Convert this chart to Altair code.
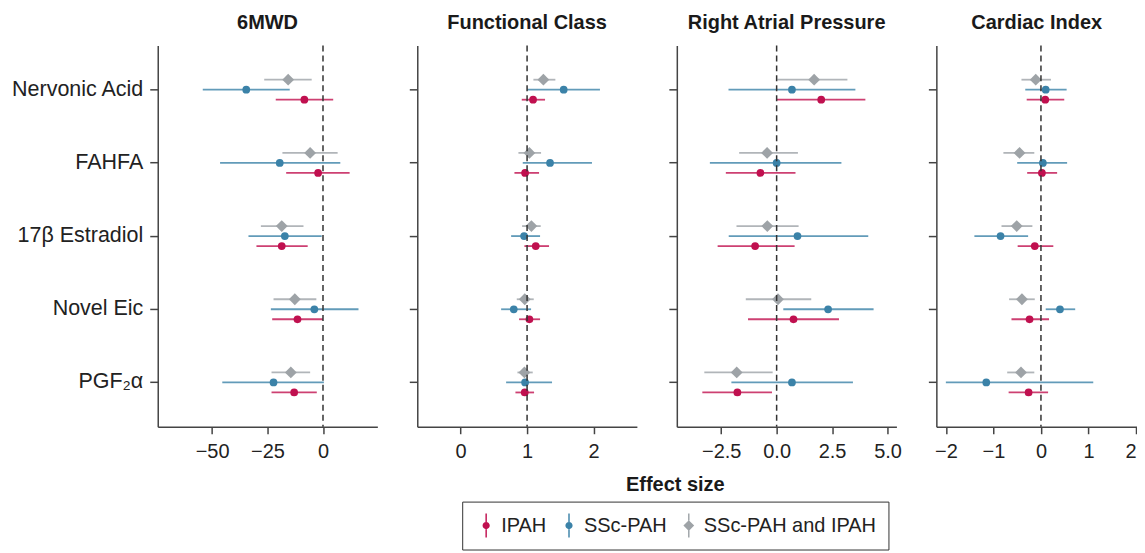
import altair as alt
import pandas as pd

metabolites = ["Nervonic Acid", "FAHFA", "17β Estradiol", "Novel Eic", "PGF₂α"]
groups = ["IPAH", "SSc-PAH", "SSc-PAH and IPAH"]
offset_order = ["SSc-PAH and IPAH", "SSc-PAH", "IPAH"]
colors = ["#C0104F", "#3B82A8", "#9EA3A7"]

# 6MWD
mwd_est = {"SSc-PAH and IPAH": [-15.7, -5.8, -18.6, -12.7, -14.5],
           "SSc-PAH": [-34.6, -19.5, -17.2, -3.9, -22.3],
           "IPAH": [-8.4, -2.2, -18.6, -11.5, -13.0]}
mwd_lo = {"SSc-PAH and IPAH": [-26.5, -18.3, -28.0, -22.3, -23.2],
          "SSc-PAH": [-54.2, -46.4, -33.6, -23.5, -45.4],
          "IPAH": [-21.3, -16.6, -30.0, -22.9, -23.2]}
mwd_hi = {"SSc-PAH and IPAH": [-5.1, 6.6, -8.8, -3.0, -5.8],
          "SSc-PAH": [-15.0, 7.8, -0.6, 16.0, 0.4],
          "IPAH": [4.6, 12.0, -6.9, 0.0, -2.8]}

# Functional Class
fc_est = {"SSc-PAH and IPAH": [1.245, 1.035, 1.065, 0.965, 0.96],
          "SSc-PAH": [1.55, 1.345, 0.955, 0.80, 0.97],
          "IPAH": [1.09, 0.97, 1.13, 1.035, 0.965]}
fc_lo = {"SSc-PAH and IPAH": [1.095, 0.87, 0.925, 0.845, 0.855],
         "SSc-PAH": [1.0, 0.935, 0.76, 0.61, 0.685],
         "IPAH": [0.92, 0.81, 0.96, 0.88, 0.825]}
fc_hi = {"SSc-PAH and IPAH": [1.425, 1.21, 1.205, 1.10, 1.085],
         "SSc-PAH": [2.095, 1.975, 1.195, 1.06, 1.375],
         "IPAH": [1.27, 1.18, 1.33, 1.195, 1.105]}

# Right Atrial Pressure
rap_est = {"SSc-PAH and IPAH": [1.69, -0.43, -0.42, 0.06, -1.80],
           "SSc-PAH": [0.69, 0.0, 0.94, 2.32, 0.69],
           "IPAH": [2.01, -0.73, -0.97, 0.76, -1.77]}
rap_lo = {"SSc-PAH and IPAH": [0.03, -1.69, -1.81, -1.39, -3.26],
          "SSc-PAH": [-2.17, -3.01, -2.16, 0.30, -2.04],
          "IPAH": [0.0, -2.29, -2.66, -1.29, -3.35]}
rap_hi = {"SSc-PAH and IPAH": [3.19, 0.96, 0.99, 1.56, -0.18],
          "SSc-PAH": [3.55, 2.92, 4.13, 4.37, 3.44],
          "IPAH": [4.0, 0.85, 0.81, 2.81, -0.21]}

# Cardiac Index
ci_est = {"SSc-PAH and IPAH": [-0.11, -0.45, -0.51, -0.40, -0.42],
          "SSc-PAH": [0.10, 0.04, -0.85, 0.40, -1.15],
          "IPAH": [0.09, 0.02, -0.13, -0.24, -0.26]}
ci_lo = {"SSc-PAH and IPAH": [-0.41, -0.79, -0.83, -0.67, -0.71],
         "SSc-PAH": [-0.33, -0.50, -1.40, 0.10, -2.0],
         "IPAH": [-0.30, -0.29, -0.49, -0.62, -0.68]}
ci_hi = {"SSc-PAH and IPAH": [0.21, -0.14, -0.18, -0.13, -0.14],
         "SSc-PAH": [0.54, 0.55, -0.27, 0.72, 1.10],
         "IPAH": [0.49, 0.34, 0.26, 0.17, 0.15]}

outcomes = ["6MWD", "Functional Class", "Right Atrial Pressure", "Cardiac Index"]
ref_values = [0, 1, 0, 0]
domains = [[-74.5, 24.5], [-0.65, 2.65], [-4.5, 5.4], [-2.2, 2.02]]
tick_values = [[-50, -25, 0], [0, 1, 2], [-2.5, 0, 2.5, 5], [-2, -1, 0, 1, 2]]
tick_formats = ["d", "d", ".1f", "d"]
widths = [220, 220, 220, 201]

series = [(mwd_est, mwd_lo, mwd_hi), (fc_est, fc_lo, fc_hi),
          (rap_est, rap_lo, rap_hi), (ci_est, ci_lo, ci_hi)]

rows = []
for oc, (e, l, h) in zip(outcomes, series):
    for g in groups:
        for i, m in enumerate(metabolites):
            rows.append({"outcome": oc, "metabolite": m, "group": g,
                         "est": e[g][i], "lo": l[g][i], "hi": h[g][i]})
df = pd.DataFrame(rows)

FONT = "Liberation Sans"
color_scale = alt.Scale(domain=groups, range=colors)

# legend glyphs: marker with a short vertical bar above and below
bars_c = "M-0.06,-1L0.06,-1L0.06,-0.3L-0.06,-0.3Z M-0.06,0.3L0.06,0.3L0.06,1L-0.06,1Z"
circle_path = "M0.3,0A0.3,0.3,0,1,1,-0.3,0A0.3,0.3,0,1,1,0.3,0Z " + bars_c
bars_d = "M-0.06,-1L0.06,-1L0.06,-0.42L-0.06,-0.42Z M-0.06,0.42L0.06,0.42L0.06,1L-0.06,1Z"
diamond_path = "M-0.45,0L0,-0.45L0.45,0L0,0.45Z " + bars_d

legend = alt.Legend(
    title=None, orient="none", legendX=305, legendY=457, direction="horizontal",
    labelFontSize=20, labelFont=FONT, labelColor="#222", symbolSize=576,
    symbolOpacity=1, symbolStrokeWidth=0, labelLimit=400,
    strokeColor="#333", padding=12, labelOffset=3, columnPadding=10,
)


def panel(idx):
    name = outcomes[idx]
    d = df[df.outcome == name]
    first = idx == 0
    xscale = alt.Scale(domain=domains[idx], nice=False, zero=False)
    if idx == 2:
        xaxis = alt.Axis(values=tick_values[idx], format=tick_formats[idx], title="Effect size",
                         titleFontSize=20, titleFont=FONT, titleFontWeight="bold", titleColor="#1a1a1a",
                         titleX=-2, titleY=64, titleBaseline="alphabetic", titleAlign="center",
                         titleAngle=0)
    elif idx == 3:
        xaxis = alt.Axis(values=tick_values[idx], format=tick_formats[idx], title=None,
                         labelFlush=5)
    else:
        xaxis = alt.Axis(values=tick_values[idx], format=tick_formats[idx], title=None)
    yenc = alt.Y("metabolite:N", sort=metabolites,
                 scale=alt.Scale(paddingInner=0.59, paddingOuter=0.4),
                 axis=alt.Axis(title=None, labels=first, labelFontSize=21.5, tickSize=8,
                               labelPadding=7))
    yoff = alt.YOffset("group:N", sort=offset_order,
                       scale=alt.Scale(domain=offset_order, paddingInner=0, paddingOuter=0))
    color = alt.Color("group:N", scale=color_scale, legend=legend)
    base = alt.Chart(d)
    rules = base.mark_rule(strokeWidth=1.8, opacity=0.8).encode(
        x=alt.X("lo:Q", scale=xscale, axis=xaxis),
        x2="hi:Q",
        y=yenc, yOffset=yoff,
        color=color,
    )
    pts = base.mark_point(filled=True, opacity=1).encode(
        x=alt.X("est:Q", scale=xscale, axis=xaxis),
        y=yenc, yOffset=yoff,
        color=color,
        shape=alt.condition(alt.datum.group == "SSc-PAH and IPAH", alt.value("diamond"), alt.value("circle")),
        size=alt.condition(alt.datum.group == "SSc-PAH and IPAH", alt.value(140), alt.value(60)),
    )
    refline = alt.Chart(pd.DataFrame({"ref": [ref_values[idx]]})).mark_rule(
        strokeDash=[6, 4], color="#333", strokeWidth=1.5).encode(
        x=alt.X("ref:Q", scale=xscale, axis=xaxis))
    layers = [rules, pts, refline]
    if first:
        legend_layer = base.mark_point(filled=True, opacity=0).encode(
            x=alt.X("est:Q", scale=xscale, axis=xaxis),
            y=yenc, yOffset=yoff,
            color=color,
            shape=alt.Shape("group:N", scale=alt.Scale(domain=groups,
                                                       range=[circle_path, circle_path, diamond_path]),
                            legend=legend),
        )
        layers.append(legend_layer)
    return alt.layer(*layers).properties(
        width=widths[idx], height=382,
        title=alt.TitleParams(name, fontSize=20, font=FONT, fontWeight="bold",
                              color="#1a1a1a", offset=12, anchor="middle"))


chart = alt.hconcat(*[panel(i) for i in range(4)], spacing=40, bounds="flush").resolve_scale(
    x="independent", y="independent"
).properties(
    padding={"left": 2, "top": 4, "right": 0, "bottom": 0}
).configure_view(stroke=None).configure_axis(
    grid=False, domainColor="#444", domainWidth=1.5, tickColor="#444", tickWidth=1.5,
    labelFont=FONT, labelFontSize=20, labelColor="#222", labelPadding=8
).configure_axisX(tickSize=7)

chart.save("out.html", embed_options={"renderer": "svg", "actions": False})
